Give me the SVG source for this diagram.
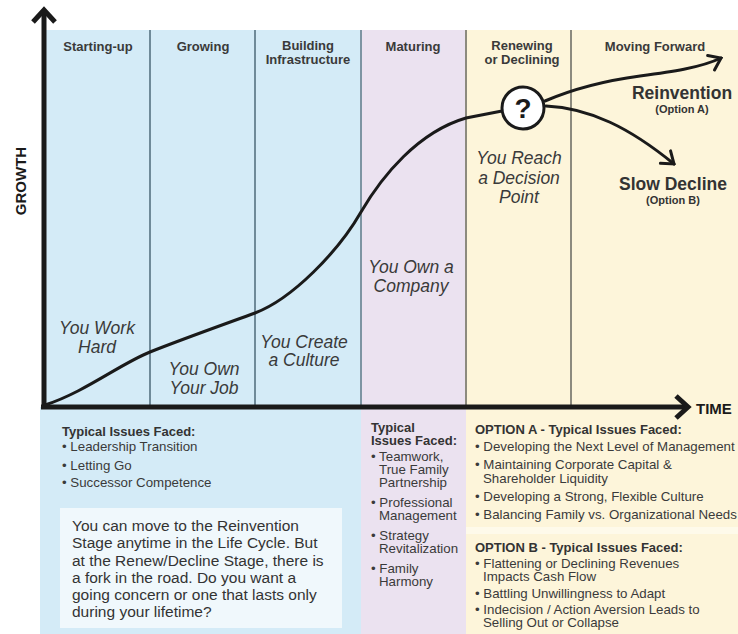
<svg xmlns="http://www.w3.org/2000/svg" width="738" height="634" viewBox="0 0 738 634">
  <defs>
    <style>
      .head { font-family: "Liberation Sans", Arial, sans-serif; font-weight: bold; font-size: 13px; fill: #3a3a3a; text-anchor: middle; }
      .say { font-family: "Liberation Sans", Arial, sans-serif; font-style: italic; font-size: 17.5px; fill: #3a3a3a; text-anchor: middle; }
      .opt { font-family: "Liberation Sans", Arial, sans-serif; font-weight: bold; font-size: 17.5px; fill: #333; text-anchor: middle; }
      .optsub { font-family: "Liberation Sans", Arial, sans-serif; font-weight: bold; font-size: 11px; fill: #333; text-anchor: middle; }
      .axis-label { font-family: "Liberation Sans", Arial, sans-serif; font-weight: bold; font-size: 15px; fill: #1a1a1a; }
      .ih { font-family: "Liberation Sans", Arial, sans-serif; font-weight: bold; font-size: 13px; fill: #333; }
      .it { font-family: "Liberation Sans", Arial, sans-serif; font-size: 13.3px; fill: #3a3a3a; }
      .note { font-family: "Liberation Sans", Arial, sans-serif; font-size: 15.5px; fill: #333; }
      .divider { stroke-width: 2; }
      .curve { fill: none; stroke: #1a1a1a; stroke-width: 3; stroke-linecap: round; }
      .axis { fill: none; stroke: #1a1a1a; stroke-width: 5; }
    </style>
    <marker id="tip" viewBox="-14 -10 16 20" refX="0" refY="0" markerWidth="16" markerHeight="20" markerUnits="userSpaceOnUse" orient="auto">
      <path d="M-11,-8 L0,0 L-11,8" fill="none" stroke="#1a1a1a" stroke-width="3" stroke-linecap="round"/>
    </marker>
    <marker id="axisTip" viewBox="-16 -14 20 28" refX="0" refY="0" markerWidth="20" markerHeight="28" markerUnits="userSpaceOnUse" orient="auto">
      <path d="M-12,-11 L0,0 L-12,11" fill="none" stroke="#1a1a1a" stroke-width="5"/>
    </marker>
  </defs>

  <rect x="0" y="0" width="738" height="634" fill="#ffffff"/>

  <!-- stage panels above the time axis -->
  <g id="panels">
    <rect x="44" y="30" width="317" height="377" fill="#d4ebf7"/>
    <rect x="361" y="30" width="105" height="377" fill="#ebe2f0"/>
    <rect x="466" y="30" width="272" height="377" fill="#fdf5da"/>
    <!-- issue panels below the time axis -->
    <rect x="40" y="407" width="321" height="227" fill="#d4ebf7"/>
    <rect x="361" y="407" width="105" height="227" fill="#ebe2f0"/>
    <rect x="466" y="407" width="272" height="227" fill="#fdf5da"/>
    <rect x="466" y="527" width="272" height="7" fill="#fefaea"/>
    <line class="divider" x1="150" y1="30" x2="150" y2="407" stroke="#6f8a99"/>
    <line class="divider" x1="255" y1="30" x2="255" y2="407" stroke="#6f8a99"/>
    <line class="divider" x1="361" y1="30" x2="361" y2="407" stroke="#7d95a3"/>
    <line class="divider" x1="466" y1="30" x2="466" y2="407" stroke="#8c8a7e"/>
    <line class="divider" x1="571" y1="30" x2="571" y2="407" stroke="#8c8a7e"/>
  </g>

  <!-- stage headings -->
  <g id="stage-starting-up"><text class="head" x="98" y="51">Starting-up</text></g>
  <g id="stage-growing"><text class="head" x="203" y="51">Growing</text></g>
  <g id="stage-building"><text class="head" x="308" y="50">Building</text><text class="head" x="308" y="64">Infrastructure</text></g>
  <g id="stage-maturing"><text class="head" x="413" y="51">Maturing</text></g>
  <g id="stage-renewing"><text class="head" x="522" y="50">Renewing</text><text class="head" x="522" y="64">or Declining</text></g>
  <g id="stage-moving-forward"><text class="head" x="655" y="51">Moving Forward</text></g>

  <!-- phrases along the curve -->
  <g id="say-work"><text class="say" x="97" y="334">You Work</text><text class="say" x="97" y="353">Hard</text></g>
  <g id="say-job"><text class="say" x="204" y="375">You Own</text><text class="say" x="204" y="394">Your Job</text></g>
  <g id="say-culture"><text class="say" x="304" y="348">You Create</text><text class="say" x="304" y="366">a Culture</text></g>
  <g id="say-company"><text class="say" x="411" y="273">You Own a</text><text class="say" x="411" y="292">Company</text></g>
  <g id="say-decision"><text class="say" x="519" y="164">You Reach</text><text class="say" x="519" y="184">a Decision</text><text class="say" x="519" y="203">Point</text></g>

  <!-- outcomes -->
  <g id="reinvention"><text class="opt" x="682" y="99">Reinvention</text><text class="optsub" x="682" y="113">(Option A)</text></g>
  <g id="slow-decline"><text class="opt" x="673" y="190">Slow Decline</text><text class="optsub" x="673" y="204">(Option B)</text></g>

  <!-- axes -->
  <g id="axes">
    <line class="axis" x1="44" y1="409" x2="44" y2="10" marker-end="url(#axisTip)"/>
    <line class="axis" x1="41" y1="407" x2="688" y2="407" marker-end="url(#axisTip)"/>
    <text class="axis-label" x="26" y="181" text-anchor="middle" transform="rotate(-90 26 181)">GROWTH</text>
    <text class="axis-label" x="696" y="414" font-size="17">TIME</text>
  </g>

  <!-- growth curve and the two paths after the decision point -->
  <g id="connectors">
    <path class="curve" d="M45,405 C85,392 120,364 150,352 C180,340 225,324 255,313 C292,299 338,252 361,212 C382,176 418,132 466,118 L502,111"/>
    <path class="curve" d="M545,101 C580,86 610,80 640,76 C670,72 700,68 721,58" marker-end="url(#tip)"/>
    <path class="curve" d="M546,106 C590,108 630,128 674,164" marker-end="url(#tip)"/>
  </g>

  <g id="decision-point">
    <circle cx="523" cy="108" r="21" fill="#ffffff" stroke="#1a1a1a" stroke-width="3"/>
    <text x="523" y="118" text-anchor="middle" font-family="'Liberation Sans', Arial, sans-serif" font-weight="bold" font-size="28" fill="#1a1a1a">?</text>
  </g>

  <!-- issues for the early stages -->
  <g id="issues-early">
    <text class="ih" x="62" y="436">Typical Issues Faced:</text>
    <text class="it" x="62" y="451">• Leadership Transition</text>
    <text class="it" x="62" y="470">• Letting Go</text>
    <text class="it" x="62" y="487">• Successor Competence</text>
  </g>

  <g id="note">
    <rect x="60" y="508" width="282" height="120" fill="#f0f8fc"/>
    <text class="note" x="72" y="531">You can move to the Reinvention</text>
    <text class="note" x="72" y="548">Stage anytime in the Life Cycle. But</text>
    <text class="note" x="72" y="566">at the Renew/Decline Stage, there is</text>
    <text class="note" x="72" y="583">a fork in the road. Do you want a</text>
    <text class="note" x="72" y="600">going concern or one that lasts only</text>
    <text class="note" x="72" y="617">during your lifetime?</text>
  </g>

  <!-- issues while maturing -->
  <g id="issues-maturing">
    <text class="ih" x="371" y="432">Typical</text>
    <text class="ih" x="371" y="445">Issues Faced:</text>
    <text class="it" x="371" y="461">• Teamwork,</text>
    <text class="it" x="379" y="474">True Family</text>
    <text class="it" x="379" y="487">Partnership</text>
    <text class="it" x="371" y="507">• Professional</text>
    <text class="it" x="379" y="520">Management</text>
    <text class="it" x="371" y="540">• Strategy</text>
    <text class="it" x="379" y="553">Revitalization</text>
    <text class="it" x="371" y="573">• Family</text>
    <text class="it" x="379" y="586">Harmony</text>
  </g>

  <!-- issues for each option -->
  <g id="issues-option-a">
    <text class="ih" x="475" y="434">OPTION A - Typical Issues Faced:</text>
    <text class="it" x="475" y="451">• Developing the Next Level of Management</text>
    <text class="it" x="475" y="469">• Maintaining Corporate Capital &amp;</text>
    <text class="it" x="483" y="483">Shareholder Liquidity</text>
    <text class="it" x="475" y="501">• Developing a Strong, Flexible Culture</text>
    <text class="it" x="475" y="519">• Balancing Family vs. Organizational Needs</text>
  </g>
  <g id="issues-option-b">
    <text class="ih" x="475" y="552">OPTION B - Typical Issues Faced:</text>
    <text class="it" x="475" y="568">• Flattening or Declining Revenues</text>
    <text class="it" x="483" y="581">Impacts Cash Flow</text>
    <text class="it" x="475" y="598">• Battling Unwillingness to Adapt</text>
    <text class="it" x="475" y="614">• Indecision / Action Aversion Leads to</text>
    <text class="it" x="483" y="627">Selling Out or Collapse</text>
  </g>
</svg>
